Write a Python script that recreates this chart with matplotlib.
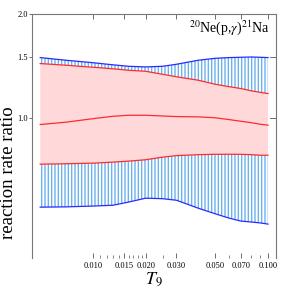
import numpy as np
import matplotlib
matplotlib.use("Agg")
import matplotlib.pyplot as plt
from matplotlib.ticker import FixedLocator, FixedFormatter, NullFormatter

plt.rcParams['font.family'] = ['Liberation Serif', 'DejaVu Serif']
plt.rcParams['mathtext.fontset'] = 'stix'
plt.rcParams['hatch.linewidth'] = 1.0
plt.rcParams['hatch.color'] = '#6cb2ee'

# temperature grid (GK) and rate ratios
T9 = [0.005, 0.007, 0.01, 0.013, 0.016, 0.02, 0.025, 0.03, 0.04, 0.05,
      0.06, 0.07, 0.08, 0.09, 0.1]
hi2 = [1.496, 1.470, 1.446, 1.426, 1.412, 1.406, 1.412, 1.431, 1.470, 1.489,
       1.496, 1.499, 1.502, 1.499, 1.496]
hi1 = [1.438, 1.422, 1.403, 1.389, 1.375, 1.366, 1.339, 1.317, 1.287, 1.253,
       1.233, 1.218, 1.200, 1.188, 1.178]
med = [0.959, 0.974, 0.997, 1.013, 1.020, 1.020, 1.015, 1.011, 1.009, 1.003,
       0.991, 0.980, 0.971, 0.961, 0.955]
lo1 = [0.737, 0.739, 0.742, 0.747, 0.752, 0.759, 0.772, 0.780, 0.785, 0.787,
       0.787, 0.787, 0.785, 0.782, 0.782]
lo2 = [0.554, 0.555, 0.558, 0.561, 0.573, 0.588, 0.586, 0.580, 0.550, 0.530,
       0.515, 0.505, 0.502, 0.499, 0.495]

xticks = [0.010, 0.015, 0.020, 0.030, 0.050, 0.070, 0.100]
xticklabels = ["0.010", "0.015", "0.020", "0.030", "0.050", "0.070", "0.100"]
xminor = [0.011, 0.012, 0.013, 0.014, 0.016, 0.017, 0.018, 0.019, 0.025,
          0.06, 0.08, 0.09]
yticks = [1.0, 1.5, 2.0]
yticklabels = ["1.0", "1.5", "2.0"]

fig = plt.figure(figsize=(2.81, 2.89), dpi=100)
ax = fig.add_axes([0.114, 0.107, 0.868, 0.845])

# hatched 2-sigma band
ax.fill_between(T9, lo2, lo1, facecolor='none', edgecolor='#6cb2ee',
                hatch='|' * 5, linewidth=0)
ax.fill_between(T9, hi1, hi2, facecolor='none', edgecolor='#6cb2ee',
                hatch='|' * 5, linewidth=0)
# 1-sigma band
ax.fill_between(T9, lo1, hi1, facecolor='#ffd9d9', edgecolor='none')

ax.plot(T9, hi2, color='#2a2aff', lw=0.9)
ax.plot(T9, lo2, color='#2a2aff', lw=0.9)
ax.plot(T9, hi1, color='#ff2a2a', lw=0.9)
ax.plot(T9, lo1, color='#ff2a2a', lw=0.9)
ax.plot(T9, med, color='#ff2a2a', lw=0.9)

ax.set_xscale('log')
ax.set_yscale('log')
ax.set_xlim(0.00449, 0.111)
ax.set_ylim(0.395, 2.0)

ax.xaxis.set_major_locator(FixedLocator(xticks))
ax.xaxis.set_major_formatter(FixedFormatter(xticklabels))
ax.xaxis.set_minor_locator(FixedLocator(xminor))
ax.xaxis.set_minor_formatter(NullFormatter())
ax.yaxis.set_major_locator(FixedLocator(yticks))
ax.yaxis.set_major_formatter(FixedFormatter(yticklabels))
ax.yaxis.set_minor_locator(FixedLocator([]))

ax.tick_params(axis='x', which='major', direction='in', top=True, length=3.5,
               width=0.6, color='#555555', labelsize=6, pad=3)
ax.tick_params(axis='x', which='minor', direction='in', top=False, length=2,
               width=0.5, color='#555555')
ax.tick_params(axis='y', which='major', direction='out', right=False, length=2.2,
               width=0.6, color='#555555', labelsize=6, pad=0.5)

# inward ticks on the right frame
for yt in yticks[:2]:
    ax.plot([1.0, 0.975], [yt, yt], transform=ax.get_yaxis_transform(),
            color='#555555', lw=0.6, clip_on=False)

for side in ['left', 'right', 'top']:
    ax.spines[side].set_color('#777777')
    ax.spines[side].set_linewidth(0.8)
ax.spines['bottom'].set_visible(False)

ax.set_xlabel(r'$T_9$', fontsize=13, labelpad=0)
ax.set_ylabel('reaction rate ratio', fontsize=13.5)
ax.yaxis.set_label_coords(-0.06, 0.35)

ax.text(0.975, 0.945, r'$^{20}$Ne(p,$\gamma$)$^{21}$Na', transform=ax.transAxes,
        ha='right', va='center', fontsize=10)

fig.savefig('out.png', dpi=100)
